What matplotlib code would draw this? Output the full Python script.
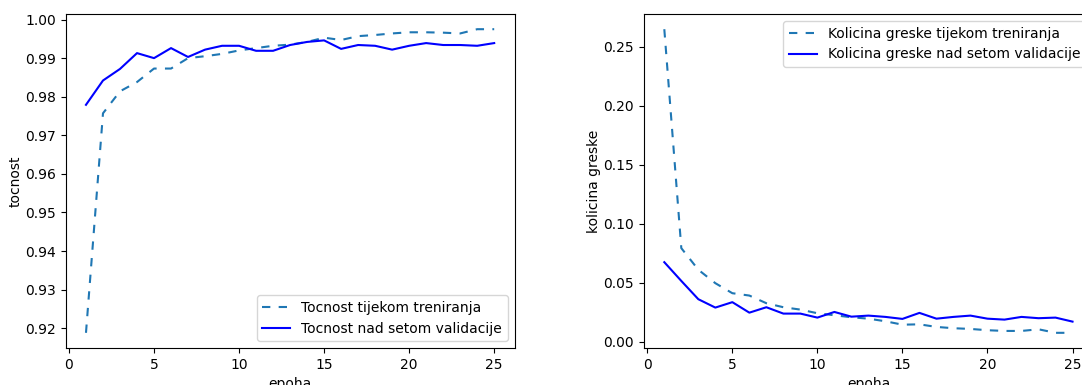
import matplotlib
matplotlib.use("Agg")
import matplotlib.pyplot as plt

# epochs and values
epoha = list(range(1, 26))

tocnost_train = [0.9188, 0.9757, 0.9814, 0.9838, 0.9873, 0.9873, 0.9900, 0.9905,
                 0.9911, 0.9920, 0.9926, 0.9932, 0.9935, 0.9942, 0.9953, 0.9947,
                 0.9957, 0.9960, 0.9964, 0.9967, 0.9967, 0.9966, 0.9964, 0.9975,
                 0.9975]
tocnost_val = [0.9779, 0.9842, 0.9872, 0.9913, 0.9900, 0.9926, 0.9903, 0.9922,
               0.9932, 0.9932, 0.9919, 0.9919, 0.9934, 0.9942, 0.9946, 0.9924,
               0.9934, 0.9932, 0.9922, 0.9932, 0.9939, 0.9934, 0.9934, 0.9932,
               0.9939]

greska_train = [0.2650, 0.0793, 0.0610, 0.0496, 0.0411, 0.0391, 0.0326, 0.0292,
                0.0272, 0.0241, 0.0224, 0.0207, 0.0195, 0.0173, 0.0144, 0.0147,
                0.0125, 0.0114, 0.0108, 0.0097, 0.0091, 0.0091, 0.0105, 0.0075,
                0.0075]
greska_val = [0.0674, 0.0515, 0.0360, 0.0289, 0.0335, 0.0246, 0.0292, 0.0238,
              0.0238, 0.0204, 0.0252, 0.0212, 0.0221, 0.0210, 0.0193, 0.0244,
              0.0195, 0.0210, 0.0221, 0.0195, 0.0187, 0.0210, 0.0199, 0.0204,
              0.0170]

plt.rcParams['font.size'] = 10

fig = plt.figure(figsize=(10.82, 3.85), dpi=100)

# left plot: accuracy
ax1 = fig.add_axes([0.0606, 0.0961, 0.415, 0.8675])
ax1.plot(epoha, tocnost_train, '--', dashes=(4, 4), color='#1f77b4', label='Tocnost tijekom treniranja')
ax1.plot(epoha, tocnost_val, '-', color='blue', label='Tocnost nad setom validacije')
ax1.set_xlabel('epoha')
ax1.set_ylabel('tocnost', labelpad=1.5)
ax1.set_xticks([0, 5, 10, 15, 20, 25])
ax1.legend(loc='lower right')

# right plot: loss (the original image is cut on the right edge)
ax2 = fig.add_axes([0.5951, 0.0961, 0.415, 0.8675])
ax2.plot(epoha, greska_train, '--', dashes=(4, 4), color='#1f77b4', label='Kolicina greske tijekom treniranja')
ax2.plot(epoha, greska_val, '-', color='blue', label='Kolicina greske nad setom validacije')
ax2.set_xlabel('epoha')
ax2.set_ylabel('kolicina greske', labelpad=1.5)
ax2.set_xticks([0, 5, 10, 15, 20, 25])
ax2.legend(loc='upper right')

fig.savefig('out.png', dpi=100)
